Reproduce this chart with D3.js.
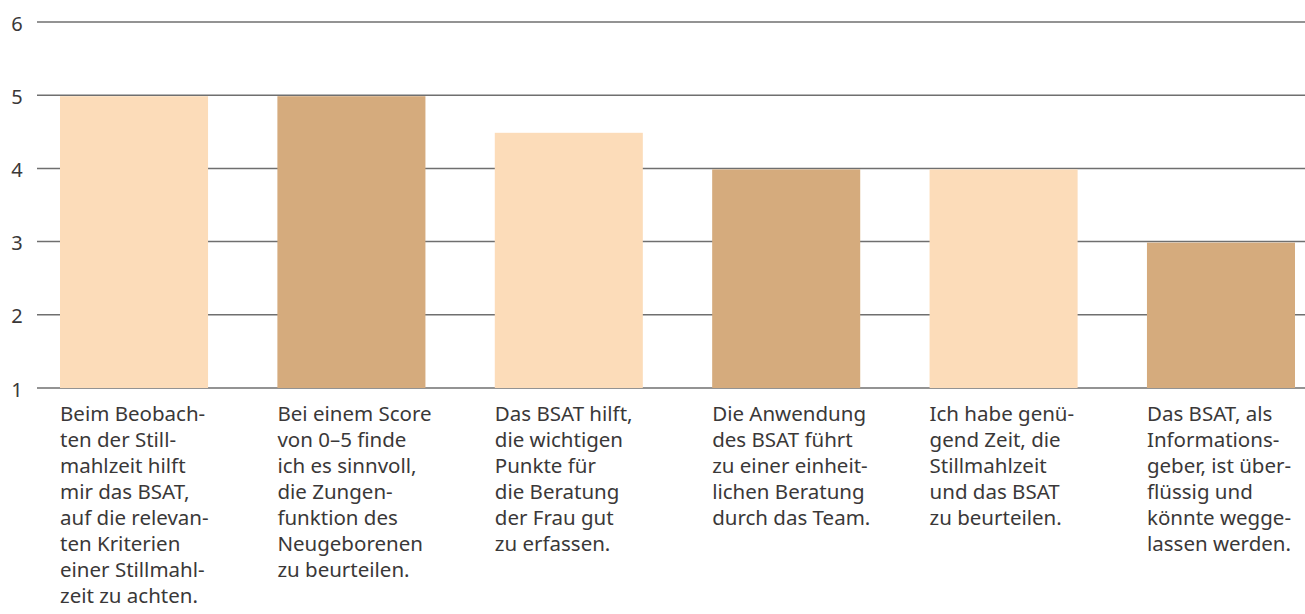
<!DOCTYPE html>
<html>
<head>
<meta charset="utf-8">
<script src="https://cdn.jsdelivr.net/npm/d3@7"></script>
<style>
  html, body { margin: 0; padding: 0; background: #fff; }
  svg { display: block; }
  text { font-family: "Noto Sans", sans-serif; fill: #3a3838; }
</style>
</head>
<body>
<svg id="chart" width="1305" height="614"></svg>
<script>
// Survey statements (one per bar), split into the printed lines
const categories = ["s1", "s2", "s3", "s4", "s5", "s6"];
const labelLines = [
  ["Beim Beobach-", "ten der Still-", "mahlzeit hilft", "mir das BSAT,", "auf die relevan-", "ten Kriterien", "einer Stillmahl-", "zeit zu achten."],
  ["Bei einem Score", "von 0–5 finde", "ich es sinnvoll,", "die Zungen-", "funktion des", "Neugeborenen", "zu beurteilen."],
  ["Das BSAT hilft,", "die wichtigen", "Punkte für", "die Beratung", "der Frau gut", "zu erfassen."],
  ["Die Anwendung", "des BSAT führt", "zu einer einheit-", "lichen Beratung", "durch das Team."],
  ["Ich habe genü-", "gend Zeit, die", "Stillmahlzeit", "und das BSAT", "zu beurteilen."],
  ["Das BSAT, als", "Informations-", "geber, ist über-", "flüssig und", "könnte wegge-", "lassen werden."]
];
const values = [5, 5, 4.5, 4, 4, 3];
const yTicks = [1, 2, 3, 4, 5, 6];
const barColors = ["#fcdcb9", "#d5ab7d"];

const svg = d3.select("#chart");

const y = d3.scaleLinear().domain([1, 6]).range([388, 22]);
const x = d3.scaleBand().domain(categories).range([60, 1295])
  .paddingInner(0.319).paddingOuter(0);

// horizontal grid lines
svg.append("g").selectAll("line").data(yTicks).join("line")
  .attr("x1", 37).attr("x2", 1305)
  .attr("y1", d => y(d)).attr("y2", d => y(d))
  .attr("stroke", "#6f6f6f").attr("stroke-width", 1.5);

// y tick labels
svg.append("g").selectAll("text").data(yTicks).join("text")
  .attr("x", 17).attr("y", d => y(d) + 1)
  .attr("text-anchor", "middle")
  .attr("dominant-baseline", "central")
  .style("font-size", "20px")
  .text(d => d);

// bars
svg.append("g").selectAll("rect").data(values).join("rect")
  .attr("x", (d, i) => x(categories[i]))
  .attr("width", x.bandwidth())
  .attr("y", d => y(d) + 1)
  .attr("height", d => y(1) - y(d) - 1)
  .attr("fill", (d, i) => barColors[i % 2]);

// statement labels below each bar
const lab = svg.append("g").selectAll("text").data(labelLines).join("text")
  .attr("x", (d, i) => x(categories[i]))
  .attr("y", 421)
  .style("font-size", "20.5px");
lab.selectAll("tspan").data(d => d).join("tspan")
  .attr("x", function () { return this.parentNode.getAttribute("x"); })
  .attr("dy", (d, j) => j === 0 ? 0 : 26)
  .text(d => d);
</script>
</body>
</html>
